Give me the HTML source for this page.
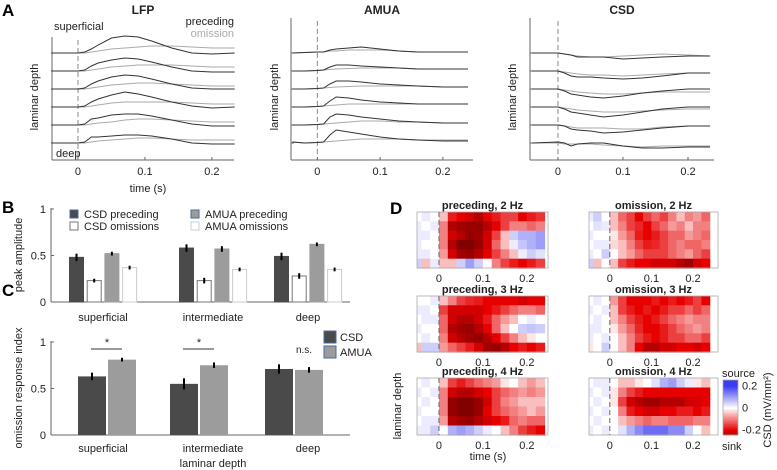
<!DOCTYPE html>
<html><head><meta charset="utf-8"><style>
html,body{margin:0;padding:0;background:#fff}
svg{display:block;font-family:"Liberation Sans",sans-serif}
</style></head><body>
<svg id="fig" width="777" height="470" viewBox="0 0 777 470" xmlns="http://www.w3.org/2000/svg">
<g id="root"></g>
</svg>
<script>
// ---------- Panel A data ----------
const lfpTimes=[-0.04,0,0.01,0.02,0.03,0.05,0.07,0.09,0.11,0.14,0.17,0.2,0.234];
const lfpPre=[[0,0,1,4,8,15,17,16,12,5,0,-1,0],[0,0,1,5,8,11,13,12,9,4,0,-1,-1],[0,0,1,5,8,12,14,13,10,5,1,0,0],[0,0,1,5,8,12,15,13,10,5,1,-1,0],[0,0,1,6,7,10,11,11,9,5,1,-1,-1],[0,0,1,6,6,7,8,8,7,4,0,-1,-1]];
const lfpOm=[[0,0,0,1,2,4,5,6,7,7,6,5,5],[0,0,0,1,2,4,5,6,6,6,5,4,4],[0,0,0,1,2,4,5,6,6,5,4,3,3],[0,0,0,1,2,4,5,5,5,5,4,3,3],[0,0,0,1,2,3,5,6,6,5,4,3,3],[0,0,0,1,2,3,4,5,5,4,3,3,3]];
const amuaTimes=[-0.04,-0.02,0,0.01,0.02,0.03,0.05,0.07,0.1,0.13,0.16,0.2,0.24];
const amuaPre=[[0,0.5,1,1,3,4,5,6,4,2,1,1,1],[0,0,0.5,1,4,6,6,5,4,3,2,2,2],[0,0,0.5,1,5,8,8,7,5,4,3,2,2],[0,0,0.5,1,6,10,9,7,5,4,3,3,3],[0,0,0.5,1,8,11,10,8,6,4,3,2,2],[1,0,0.5,1,8,13,11,9,6,4,3,2,2]];
const amuaOm=[[0,0.5,1,1,2,2,3,3,3,2,1,1,1],[0,0,0.5,1,1.5,2,2.5,3,3,3,2,2,2],[0,0,0.5,1,1.5,2,2.5,3,3,3,3,2,2],[0,0,0.5,1,1.5,2,3,3,3,3,3,3,3],[0,0,0.5,1,1.5,2,3,4,4,3,3,2,2],[1,0,0.5,1,1.5,2,3,4,4,4,3,3,3]];
const csdTimes=[-0.04,0,0.01,0.02,0.03,0.05,0.07,0.1,0.13,0.16,0.2,0.234];
const csdPre=[[0,0,-1,-2,-4,-4,-4,-6,-5,-4,-3,-3],[0,0,-2,-5,-6,-6,-7,-8,-7,-5,-2,-2],[0,0,-2,-5,-6,-8,-9,-7,-4,-2,0,0],[0,0,-2,-5,-6,-8,-10,-8,-5,-2,0,0],[0,0,-1,-4,-5,-6,-8,-7,-5,-3,-1,-1],[0,1,0,-3,-1,0,0,-3,-5,-5,-4,-4]];
const csdOm=[[0,0,-1,-2,-3,-4,-4,-3,-2,-1,-2,-3],[0,0,-1,-2,-3,-4,-4,-5,-4,-3,-2,-2],[0,0,-1,-2,-3,-4,-5,-5,-4,-3,-3,-3],[0,0,-1,-2,-3,-4,-5,-5,-4,-3,-2,-2],[0,0,-1,-2,-3,-3,-3,-4,-4,-2,-1,-1],[0,0,-1,-1,-1,-1,-2,-3,-4,-3,-3,-3]];
const timeTicks=[0,0.1,0.2];
const timeTickLabels=["0","0.1","0.2"];
// ---------- Panel B data ----------
const layers=["superficial","intermediate","deep"];
const csdPreceding=[0.48,0.58,0.49];
const csdOmissions=[0.23,0.23,0.28];
const amuaPreceding=[0.52,0.57,0.62];
const amuaOmissions=[0.37,0.35,0.35];
const bErr=[[0.04,0.04,0.04],[0.02,0.03,0.03],[0.02,0.03,0.02],[0.02,0.02,0.02]];
const ampTicks=[0,0.5,1];
const ampTickLabels=["0","0.5","1"];
// ---------- Panel C data ----------
const csdIndex=[0.63,0.55,0.71];
const amuaIndex=[0.81,0.75,0.70];
const csdIndexErr=[0.04,0.06,0.05];
const amuaIndexErr=[0.02,0.03,0.03];
const sigLabels=["*","*","n.s."];
// ---------- Panel D data ----------
const hmTimes=[-0.05,-0.03,-0.01,0.01,0.03,0.05,0.07,0.09,0.11,0.13,0.15,0.17,0.19,0.21,0.23];
const hmTitles=["preceding, 2 Hz","omission, 2 Hz","preceding, 3 Hz","omission, 3 Hz","preceding, 4 Hz","omission, 4 Hz"];
const hmPre2=[[0,0.02,0,-0.05,-0.18,-0.2,-0.22,-0.25,-0.2,-0.18,-0.15,-0.15,-0.2,-0.18,-0.16],[0.02,0,0.02,-0.1,-0.25,-0.27,-0.28,-0.28,-0.25,-0.2,-0.15,-0.1,-0.1,-0.12,-0.1],[0.02,0.02,0,-0.1,-0.22,-0.25,-0.28,-0.27,-0.22,-0.15,-0.05,0.05,0.08,0.08,0.1],[0.02,0,0,-0.1,-0.25,-0.3,-0.3,-0.28,-0.22,-0.12,-0.05,0.02,0.06,0.08,0.1],[0.02,0.02,0,-0.08,-0.22,-0.27,-0.28,-0.25,-0.2,-0.15,-0.1,-0.05,0.02,0.05,0.03],[0.05,-0.05,0.02,-0.05,-0.05,0.05,0.1,0.05,0,-0.1,-0.15,-0.18,-0.2,-0.18,-0.15]];
const hmOm2=[[0.02,0.05,0,-0.05,-0.12,-0.15,-0.2,-0.15,-0.12,-0.15,-0.1,-0.05,-0.1,-0.08,-0.12],[0,0.03,0.02,-0.05,-0.1,-0.15,-0.17,-0.2,-0.15,-0.12,-0.08,-0.1,-0.05,-0.1,-0.1],[0.02,0,0,-0.02,-0.08,-0.12,-0.18,-0.2,-0.18,-0.15,-0.12,-0.12,-0.08,-0.1,-0.12],[0,0.02,0.02,-0.03,-0.05,-0.1,-0.15,-0.18,-0.17,-0.15,-0.12,-0.1,-0.12,-0.12,-0.1],[0.02,0,0.05,0,-0.05,-0.08,-0.12,-0.15,-0.15,-0.15,-0.12,-0.1,-0.08,-0.12,-0.15],[0.05,-0.05,0,-0.05,-0.15,-0.18,-0.2,-0.2,-0.22,-0.22,-0.22,-0.25,-0.27,-0.22,-0.2]];
const hmPre3=[[0,0,0.02,-0.05,-0.1,-0.15,-0.17,-0.18,-0.2,-0.2,-0.2,-0.2,-0.22,-0.2,-0.2],[0.02,0.02,0,-0.15,-0.22,-0.22,-0.22,-0.22,-0.2,-0.18,-0.15,-0.12,-0.1,-0.1,-0.12],[0,0.02,0.02,-0.12,-0.22,-0.25,-0.25,-0.22,-0.18,-0.12,-0.08,-0.05,0,0.02,0],[0.02,0,0,-0.12,-0.25,-0.27,-0.28,-0.25,-0.2,-0.12,-0.05,0,0.05,0.06,0.05],[0,0.02,0,-0.1,-0.22,-0.25,-0.27,-0.28,-0.25,-0.2,-0.15,-0.1,-0.05,-0.02,0],[-0.05,0.05,0.05,-0.08,-0.12,-0.15,-0.18,-0.22,-0.27,-0.28,-0.25,-0.2,-0.18,-0.2,-0.18]];
const hmOm3=[[0,0.02,0,-0.08,-0.15,-0.2,-0.2,-0.2,-0.18,-0.2,-0.18,-0.2,-0.18,-0.15,-0.2],[0.02,0,0.02,-0.05,-0.15,-0.18,-0.2,-0.18,-0.2,-0.18,-0.15,-0.15,-0.12,-0.15,-0.12],[0,0.02,0,-0.05,-0.1,-0.15,-0.18,-0.2,-0.18,-0.15,-0.12,-0.1,-0.08,-0.1,-0.1],[0.02,0.02,0,-0.02,-0.08,-0.12,-0.17,-0.2,-0.2,-0.18,-0.15,-0.12,-0.1,-0.08,-0.1],[0.02,0,0.02,0,-0.05,-0.1,-0.15,-0.18,-0.2,-0.18,-0.15,-0.15,-0.12,-0.12,-0.15],[-0.02,0,0.05,0,-0.05,-0.1,-0.2,-0.25,-0.25,-0.22,-0.22,-0.2,-0.2,-0.22,-0.2]];
const hmPre4=[[0,0.02,0,-0.05,-0.15,-0.18,-0.15,-0.12,-0.1,-0.08,-0.02,0,-0.05,-0.08,-0.05],[0.02,0,0.02,-0.1,-0.22,-0.25,-0.25,-0.22,-0.2,-0.15,-0.12,-0.1,-0.08,-0.1,-0.08],[0,0.02,0,-0.1,-0.28,-0.3,-0.3,-0.28,-0.22,-0.15,-0.1,-0.08,-0.05,-0.05,-0.05],[0.02,0,0,-0.1,-0.28,-0.3,-0.3,-0.28,-0.2,-0.15,-0.12,-0.1,-0.08,-0.05,-0.08],[0,0.02,0.02,-0.08,-0.25,-0.27,-0.28,-0.25,-0.22,-0.2,-0.18,-0.12,-0.1,-0.12,-0.12],[0.02,0.02,0.05,0,0.08,0.1,0.08,0.05,0.02,0,-0.05,-0.1,-0.15,-0.18,-0.2]];
const hmOm4=[[0,0.02,0.02,0,-0.05,-0.05,-0.02,0,0.03,0.08,0.1,0.05,0.02,-0.02,-0.05],[0.02,0,0.02,-0.02,-0.1,-0.15,-0.18,-0.2,-0.2,-0.2,-0.2,-0.2,-0.2,-0.2,-0.2],[0,0.02,0,-0.02,-0.15,-0.22,-0.25,-0.27,-0.27,-0.25,-0.25,-0.25,-0.22,-0.22,-0.2],[0.02,0,0.02,0,-0.1,-0.18,-0.2,-0.22,-0.22,-0.2,-0.2,-0.18,-0.18,-0.2,-0.18],[0,0.02,0,0,-0.05,-0.08,-0.1,-0.12,-0.1,-0.1,-0.12,-0.12,-0.12,-0.1,-0.1],[0.02,0,0.02,0,0.03,0.08,0.12,0.15,0.15,0.15,0.12,0.12,0.05,0,-0.05]];
const cbTicks=[0.2,0,-0.2];
const cbTickLabels=["0.2","0","-0.2"];

const NS="http://www.w3.org/2000/svg";
const root=document.getElementById('root');
function mk(tag,attrs,parent){const e=document.createElementNS(NS,tag);for(const k in attrs)e.setAttribute(k,attrs[k]);(parent||root).appendChild(e);return e;}
function txt(s,x,y,o,parent){const e=mk('text',Object.assign({x:x,y:y,'font-size':11,fill:'#222'},o||{}),parent);e.textContent=s;return e;}

// ---------- Panel A ----------
const baseY=[53,71,89,107,125,143];
function tracePanel(name,L,R,t0,t1,top,times,pre,om,title,titleX){
  const g=mk('g',{});
  
  
  const x=t=>L+(t-t0)/(t1-t0)*(R-L);
  mk('line',{x1:L,y1:top,x2:L,y2:160,stroke:'#666','stroke-width':1},g);
  mk('line',{x1:L,y1:160,x2:R,y2:160,stroke:'#666','stroke-width':1},g);
  const dz=mk('line',{x1:x(0),y1:top+3,x2:x(0),y2:160,stroke:'#888','stroke-width':1,'stroke-dasharray':'5,3'},g);
  
  
  timeTicks.forEach((t,i)=>{
    mk('line',{x1:x(t),y1:160,x2:x(t),y2:157,stroke:'#666'},g);
    const tl=txt(timeTickLabels[i],x(t),175,{'text-anchor':'middle'},g);
    
    
  });
  baseY.forEach(b=>mk('line',{x1:L,y1:b,x2:L+3,y2:b,stroke:'#666'},g));
  const tt=txt(title,titleX,14,{'text-anchor':'middle','font-weight':'bold','font-size':12},g);
  
  
  [[om,'#aaa','omission'],[pre,'#333','preceding']].forEach(([ser,col,lab])=>{
    ser.forEach((vals,k)=>{
      const d=vals.map((v,i)=>(i?'L':'M')+x(times[i]).toFixed(1)+','+(baseY[k]-v).toFixed(1)).join(' ');
      const p=mk('path',{d:d,fill:'none',stroke:col,'stroke-width':1},g);
      
      
    });
  });
  return g;
}
tracePanel('lfp',52,234,-0.0388,0.233,37,lfpTimes,lfpPre,lfpOm,'LFP',143);
tracePanel('amua',291,473,-0.042,0.248,18,amuaTimes,amuaPre,amuaOm,'AMUA',382);
tracePanel('csd',530,714,-0.043,0.240,18,csdTimes,csdPre,csdOm,'CSD',622);
[['A',2,16]].forEach(([s,x,y])=>{const e=txt(s,x,y,{'font-size':17,'font-weight':'bold',fill:'#000'});});
let e;
e=txt('superficial',54,30,{'font-size':11});
e=txt('deep',56,157,{'font-size':11});
e=txt('preceding',234,25,{'text-anchor':'end'});
e=txt('omission',234,37,{'text-anchor':'end',fill:'#aaa'});
e=txt('time (s)',148,192,{'text-anchor':'middle'});
[[38,97],[278,97],[516,97]].forEach(([x,y])=>{const t=txt('laminar depth',x,y,{'text-anchor':'middle',transform:'rotate(-90 '+x+' '+y+')'});});

// ---------- Panel B ----------
const bY=v=>302-v*93;
const gC=[103,213,308];
e=txt('B',2,213,{'font-size':17,'font-weight':'bold',fill:'#000'});
mk('line',{x1:51,y1:208,x2:51,y2:302,stroke:'#666'});
mk('line',{x1:51,y1:302,x2:350,y2:302,stroke:'#666'});
ampTicks.forEach((v,i)=>{mk('line',{x1:51,y1:bY(v),x2:54,y2:bY(v),stroke:'#666'});const t=txt(ampTickLabels[i],46,bY(v)+4,{'text-anchor':'end'});});
e=txt('peak amplitude',22,255,{'text-anchor':'middle',transform:'rotate(-90 22 255)'});
const bSeries=[[csdPreceding,'#4a4a4a','#4a4a4a','csd-preceding'],[csdOmissions,'#fff','#777','csd-omissions'],[amuaPreceding,'#9c9c9c','#9c9c9c','amua-preceding'],[amuaOmissions,'#fff','#ccc','amua-omissions']];
bSeries.forEach(([vals,fill,st,nm],s)=>{
  vals.forEach((v,i)=>{
    const cx=gC[i]-26.5+s*17.7;
    const r=mk('rect',{x:cx-7,y:bY(v),width:14,height:302-bY(v),fill:fill,stroke:st,'stroke-width':1});
    
    
    const el=mk('line',{x1:cx,y1:bY(v+bErr[s][i]),x2:cx,y2:bY(v-bErr[s][i]),stroke:'#000','stroke-width':2});
    
    
  });
});
layers.forEach((l,i)=>{const t=txt(l,gC[i],321,{'text-anchor':'middle'});});
[[74,214,'#4a4a4a','#4a6a9a','CSD preceding'],[74,226,'#fff','#777','CSD omissions'],[195,214,'#9c9c9c','#4a6a9a','AMUA preceding'],[195,226,'#fff','#ccc','AMUA omissions']].forEach(([x,y,f,s,l])=>{
  const r=mk('rect',{x:x-4,y:y-4,width:8,height:8,fill:f,stroke:s});
  
  const t=txt(l,x+10,y+4);
});

// ---------- Panel C ----------
const cY=v=>435-v*93;
e=txt('C',2,296,{'font-size':17,'font-weight':'bold',fill:'#000'});
mk('line',{x1:51,y1:341,x2:51,y2:435,stroke:'#666'});
mk('line',{x1:51,y1:435,x2:350,y2:435,stroke:'#666'});
ampTicks.forEach((v,i)=>{mk('line',{x1:51,y1:cY(v),x2:54,y2:cY(v),stroke:'#666'});const t=txt(ampTickLabels[i],46,cY(v)+4,{'text-anchor':'end'});});
e=txt('omission response index',22,388,{'text-anchor':'middle',transform:'rotate(-90 22 388)'});
const cC=[107,199,294];
[[csdIndex,csdIndexErr,'#4a4a4a','csd'],[amuaIndex,amuaIndexErr,'#9c9c9c','amua']].forEach(([vals,err,col,nm],s)=>{
  vals.forEach((v,i)=>{
    const cx=cC[i]-15+s*30;
    const r=mk('rect',{x:cx-14,y:cY(v),width:28,height:435-cY(v),fill:col});
    
    
    const el=mk('line',{x1:cx,y1:cY(v+err[i]),x2:cx,y2:cY(v-err[i]),stroke:'#000','stroke-width':2});
    
    
  });
});
sigLabels.forEach((s,i)=>{
  if(s==='*'){mk('line',{x1:cC[i]-16,y1:349,x2:cC[i]+15,y2:349,stroke:'#333'});const t=txt(s,cC[i],346,{'text-anchor':'middle'});}
  else{const t=txt(s,cC[i]+10,353,{'text-anchor':'middle','font-size':10});}
});
layers.forEach((l,i)=>{const t=txt(l,[103,213,308][i],452,{'text-anchor':'middle'});});
e=txt('laminar depth',213,467,{'text-anchor':'middle'});
[[330,337,'#4a4a4a','CSD'],[330,352,'#9c9c9c','AMUA']].forEach(([x,y,f,l])=>{
  const r=mk('rect',{x:x-6,y:y-6,width:12,height:12,fill:f,stroke:'#4a6a9a'});
  
  const t=txt(l,x+10,y+4);
});

// ---------- Panel D ----------
e=txt('D',390,214,{'font-size':17,'font-weight':'bold',fill:'#000'});
function cmap(v){
  if(v>=0){const a=Math.min(v/0.2,1);return 'rgb('+Math.round(255-195*a)+','+Math.round(255-195*a)+','+Math.round(255-15*a)+')';}
  const a=-v;
  if(a<=0.2){const b=a/0.2;return 'rgb('+Math.round(255-25*b)+','+Math.round(255-255*b)+','+Math.round(255-255*b)+')';}
  const b=Math.min((a-0.2)/0.1,1);return 'rgb('+Math.round(230-100*b)+',0,0)';
}
const hmData=[hmPre2,hmOm2,hmPre3,hmOm3,hmPre4,hmOm4];
const hmRowsY=[[212,268],[296,352],[378,435]];
const hmCols=[[417,548,-0.05,0.248],[589,718,-0.05,0.26]];
hmData.forEach((grid,p)=>{
  const [L,R,t0,t1]=hmCols[p%2];const [T,B]=hmRowsY[Math.floor(p/2)];
  const x=t=>L+(t-t0)/(t1-t0)*(R-L);
  const g=mk('g',{});
  
  
  const dt=0.02,rh=(B-T)/grid.length;
  grid.forEach((row,r)=>row.forEach((v,c)=>{
    const x0=Math.max(L,x(hmTimes[c]-dt/2)),x1=Math.min(R,x(hmTimes[c]+dt/2));
    const cell=mk('rect',{x:x0.toFixed(1),y:(T+r*rh).toFixed(1),width:(x1-x0+0.6).toFixed(1),height:(rh+0.6).toFixed(1),fill:cmap(v)},g);
    
    
  }));
  mk('rect',{x:L,y:T,width:R-L,height:B-T,fill:'none',stroke:'#aaa','stroke-width':0.8},g);
  mk('line',{x1:x(0),y1:T,x2:x(0),y2:B,stroke:'#666','stroke-dasharray':'5,3'},g);
  timeTicks.forEach((t,i)=>{const tl=txt(timeTickLabels[i],x(t),B+14,{'text-anchor':'middle'},g);});
  const tt=txt(hmTitles[p],(L+R)/2,T-3,{'text-anchor':'middle','font-weight':'bold'},g);
  
});
e=txt('time (s)',488,460,{'text-anchor':'middle'});
e=txt('laminar depth',401,406,{'text-anchor':'middle',transform:'rotate(-90 401 406)'});
// colorbar
const cbT=380,cbB=435,cbY=v=>cbT+(0.25-v)/0.5*(cbB-cbT);
const cbg=mk('g',{});


for(let i=0;i<40;i++){const v=0.25-i*0.5/40;mk('rect',{x:723,y:cbY(v),width:15,height:(cbB-cbT)/40+0.5,fill:cmap(v)},cbg);}
mk('rect',{x:723,y:cbT,width:15,height:cbB-cbT,fill:'none',stroke:'#aaa','stroke-width':0.8},cbg);
cbTicks.forEach((v,i)=>{const t=txt(cbTickLabels[i],742,cbY(v)+4,{},cbg);});
e=txt('source',722,377);
e=txt('sink',722,450);
e=txt('CSD (mV/mm²)',771,410,{'text-anchor':'middle',transform:'rotate(-90 771 410)'});
</script>
</body></html>
